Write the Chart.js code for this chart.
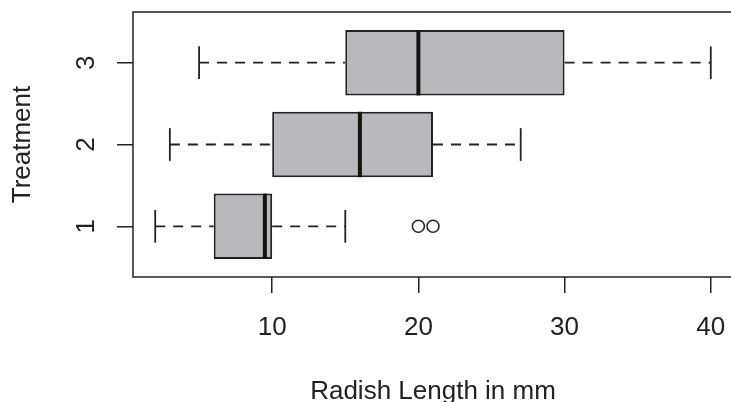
<!DOCTYPE html>
<html><head><meta charset="utf-8">
<script src="https://cdn.jsdelivr.net/npm/chart.js@4/dist/chart.umd.min.js"></script>
<style>html,body{margin:0;padding:0;background:#fff;overflow:hidden}#wrap{width:763px;height:402px}</style>
</head><body><div id="wrap"><canvas id="c" width="763" height="402"></canvas></div>
<script>
// ---- data ----
const treatments = [1, 2, 3];
const lowerWhisker = [2, 3, 5];
const q1 = [6, 10, 15];
const median = [9.5, 16, 20];
const q3 = [10, 21, 30];
const upperWhisker = [15, 27, 40];
const outlierValues = [20, 21];
const outlierTreatment = [1, 1];
const xTicks = [10, 20, 30, 40];
const yTicks = [1, 2, 3];
const xTitle = 'Radish Length in mm';
const yTitle = 'Treatment';

// ---- style ----
const ink = '#222222';
const boxFill = '#b8b9bc';
const fontFam = "'Liberation Sans', Arial, Helvetica, sans-serif";
const capHalf = 0.2;   // staple half length (in treatment units)
const boxHalf = 0.4;   // half box width

const datasets = [];
// boxes (floating horizontal bars)
datasets.push({
  type: 'bar', indexAxis: 'y',
  data: treatments.map((t, i) => ({ y: t, x: [q1[i], q3[i]] })),
  backgroundColor: boxFill, borderColor: ink, borderWidth: 2, borderSkipped: false,
  barPercentage: 0.8, categoryPercentage: 1, order: 5
});
const seg = (pts, extra) => Object.assign({
  type: 'scatter', showLine: true, data: pts, borderColor: ink, borderWidth: 1.8,
  pointRadius: 0, pointHoverRadius: 0, fill: false, order: 4
}, extra || {});
treatments.forEach((t, i) => {
  // whiskers (dashed)
  datasets.push(seg([{ x: lowerWhisker[i], y: t }, { x: q1[i], y: t }], { borderDash: [10, 8] }));
  datasets.push(seg([{ x: q3[i], y: t }, { x: upperWhisker[i], y: t }], { borderDash: [10, 8] }));
  // staples
  datasets.push(seg([{ x: lowerWhisker[i], y: t - capHalf }, { x: lowerWhisker[i], y: t + capHalf }]));
  datasets.push(seg([{ x: upperWhisker[i], y: t - capHalf }, { x: upperWhisker[i], y: t + capHalf }]));
  // median
  datasets.push(seg([{ x: median[i], y: t - boxHalf }, { x: median[i], y: t + boxHalf }], { borderWidth: 4, borderColor: '#141414', order: 1 }));
});
// outliers
datasets.push({
  type: 'scatter',
  data: outlierValues.map((v, i) => ({ x: v, y: outlierTreatment[i] })),
  pointRadius: 6, pointBorderWidth: 1.5, pointBorderColor: ink,
  pointBackgroundColor: 'rgba(255,255,255,0)', order: 2
});

const framePlugin = {
  id: 'frame',
  beforeDatasetsDraw(chart) {
    const { ctx, chartArea: a } = chart;
    ctx.save();
    ctx.strokeStyle = ink; ctx.lineWidth = 1.5;
    ctx.strokeRect(a.left, a.top, a.right - a.left, a.bottom - a.top);
    ctx.restore();
  }
};
const noPad = s => { s.paddingTop = 0; s.paddingBottom = 0; s.paddingLeft = 0; s.paddingRight = 0; };

new Chart(document.getElementById('c'), {
  type: 'scatter',
  data: { datasets },
  options: {
    responsive: false, animation: false,
    layout: { padding: { top: 12, right: 30, left: 0, bottom: 0 } },
    plugins: { legend: { display: false }, tooltip: { enabled: false } },
    scales: {
      x: {
        type: 'linear', min: 0.48, max: 41.52, offset: false,
        afterBuildTicks: s => { s.ticks = xTicks.map(v => ({ value: v })); },
        afterFit: s => { s.height = 125; noPad(s); },
        border: { display: false },
        grid: { offset: false, drawOnChartArea: false, drawTicks: true, tickLength: 16, color: ink, lineWidth: 1.5 },
        ticks: { color: ink, font: { family: fontFam, size: 26 }, padding: 19, maxRotation: 0 },
        title: { display: true, text: xTitle, color: ink, font: { family: fontFam, size: 26, lineHeight: 0.77 }, padding: { top: 0, bottom: 0 } }
      },
      y: {
        type: 'linear', min: 0.38, max: 3.62, offset: false,
        afterBuildTicks: s => { s.ticks = yTicks.map(v => ({ value: v })); },
        afterFit: s => { s.width = 133; noPad(s); },
        border: { display: false },
        grid: { offset: false, drawOnChartArea: false, drawTicks: true, tickLength: 16, color: ink, lineWidth: 1.5 },
        ticks: { color: ink, font: { family: fontFam, size: 26 }, padding: 23, minRotation: 90, maxRotation: 90, crossAlign: 'center' },
        title: { display: true, text: yTitle, color: ink, font: { family: fontFam, size: 26 }, padding: { top: 7, bottom: 0 } }
      }
    }
  },
  plugins: [framePlugin]
});
</script>
</body></html>
